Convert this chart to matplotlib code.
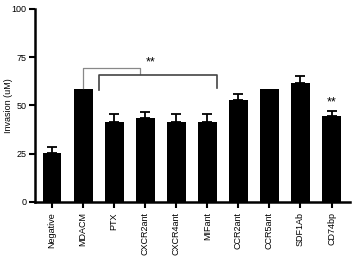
import matplotlib
matplotlib.use("Agg")
import matplotlib.pyplot as plt
import numpy as np

# --- dados ---
categorias = ["Negative", "MDACM", "PTX", "CXCR2ant", "CXCR4ant", "MIFant",
              "CCR2ant", "CCR5ant", "SDF1Ab", "CD74bp"]
valores = [25.5, 58.5, 41.5, 43.5, 41.5, 41.5, 52.8, 58.5, 61.7, 44.6]
erros = [3.1, 0, 4.1, 3.1, 4.1, 4.1, 3.2, 0, 3.6, 2.6]

plt.rcParams['font.family'] = ['Liberation Sans', 'DejaVu Sans']

fig = plt.figure(figsize=(3.58, 2.63), dpi=100)
ax = fig.add_axes([0.098, 0.232, 0.88, 0.734])

x = np.arange(len(categorias))
ax.bar(x, valores, width=0.6, color='black', zorder=2)
for xi, v, e in zip(x, valores, erros):
    if e > 0:
        ax.errorbar(xi, v, yerr=[[0], [e]], fmt='none', ecolor='black',
                    elinewidth=1.3, capsize=3.5, capthick=1.3, zorder=1)

# brackets de significância
ax.plot([1.0, 1.0, 2.84, 2.84], [59, 69.4, 69.4, 66.3], color='#888888', lw=0.9)
ax.plot([1.52, 1.52, 5.32, 5.32], [58, 65.8, 65.8, 59], color='#444444', lw=1.2)
ax.text(3.16, 69.0, "**", ha='center', va='bottom', fontsize=9)
ax.text(9, 48.5, "**", ha='center', va='bottom', fontsize=9)

ax.set_xlim(-0.55, 9.6)
ax.set_ylim(0, 100)
ax.set_yticks([0, 25, 50, 75, 100])
ax.set_xticks(x)
ax.set_xticklabels(categorias, rotation=90, fontsize=6.5)
ax.tick_params(axis='y', labelsize=6.5, width=1.5, length=4, pad=2)
ax.tick_params(axis='x', width=1.5, length=4)
ax.set_ylabel("Invasion (uM)", fontsize=6.5)
ax.yaxis.set_label_coords(-0.07, 0.5)

for s in ['top', 'right']:
    ax.spines[s].set_visible(False)
for s in ['left', 'bottom']:
    ax.spines[s].set_linewidth(1.8)

plt.savefig("out.png", dpi=100)
